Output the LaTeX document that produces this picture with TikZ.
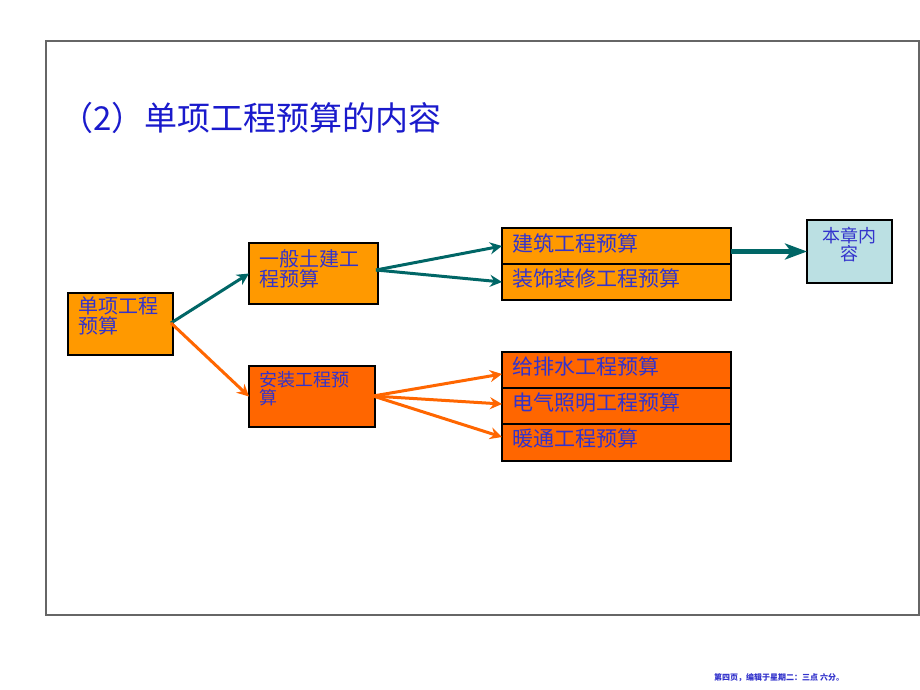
\documentclass[tikz,border=0pt]{standalone}
\usepackage{fontspec}
\setmainfont{Noto Sans CJK SC}
\usetikzlibrary{arrows.meta}
\definecolor{orgA}{HTML}{FF9900}
\definecolor{orgB}{HTML}{FF6600}
\definecolor{tealA}{HTML}{006666}
\definecolor{lblue}{HTML}{BBE0E3}
\definecolor{txtblue}{HTML}{3333CC}
\definecolor{ttlblue}{HTML}{1A1ACC}
\begin{document}
\begin{tikzpicture}[x=1pt,y=-1pt,
  box/.style={draw=black,line width=2.5pt,anchor=north west,inner sep=0pt,outer sep=0pt},
  btxt/.style={anchor=north west,inner sep=0pt,align=left,text=txtblue},
  tarr/.style={draw=tealA,line width=3pt,-{Stealth[length=12pt,width=12pt,inset=4pt]}},
  oarr/.style={draw=orgB,line width=3pt,-{Stealth[length=12pt,width=12pt,inset=4pt]}}]
\useasboundingbox (0,0) rectangle (920,690);
\fill[white] (0,0) rectangle (920,690);
% frame
\draw[gray!80!black,line width=1.2pt] (46,41) rectangle (919,615);
% title
\node[anchor=west,inner sep=0pt,text=ttlblue,font=\fontsize{33}{33}\selectfont] (title) at (60,118) {（2）单项工程预算的内容};
% boxes
\node[box,fill=orgA,minimum width=105pt,minimum height=62pt] (a) at (68,293) {};
\node[btxt,font=\fontsize{20}{20}\selectfont] (ta) at (78,297) {单项工程\\预算};
\node[box,fill=orgA,minimum width=129pt,minimum height=61pt] (b) at (249,243) {};
\node[btxt,font=\fontsize{20}{20}\selectfont] (tb) at (259,249) {一般土建工\\程预算};
\node[box,fill=orgB,minimum width=126pt,minimum height=61pt] (c) at (249,366) {};
\node[btxt,font=\fontsize{18}{16}\selectfont] (tc) at (259,371) {安装工程预\\算};
\node[box,fill=orgA,minimum width=229pt,minimum height=36pt] (d1) at (502,228) {};
\node[box,fill=orgA,minimum width=229pt,minimum height=36pt] (d2) at (502,264) {};
\node[btxt,font=\fontsize{21}{21}\selectfont] (td1) at (512,234) {建筑工程预算};
\node[btxt,font=\fontsize{21}{21}\selectfont] (td2) at (512,269) {装饰装修工程预算};
\node[box,fill=orgB,minimum width=229pt,minimum height=36pt] (e1) at (502,352) {};
\node[box,fill=orgB,minimum width=229pt,minimum height=36pt] (e2) at (502,388) {};
\node[box,fill=orgB,minimum width=229pt,minimum height=37pt] (e3) at (502,424) {};
\node[btxt,font=\fontsize{21}{21}\selectfont] (te1) at (512,357) {给排水工程预算};
\node[btxt,font=\fontsize{21}{21}\selectfont] (te2) at (512,393) {电气照明工程预算};
\node[btxt,font=\fontsize{21}{21}\selectfont] (te3) at (512,429) {暖通工程预算};
\node[box,fill=lblue,minimum width=85pt,minimum height=63pt] (f) at (807,220) {};
\node[anchor=north,inner sep=0pt,align=center,text=txtblue,font=\fontsize{18}{18}\selectfont] (tf) at (849.5,227) {本章内\\容};
% connectors
\coordinate (aout) at (171,323);
\coordinate (bout) at (376,270);
\coordinate (cout) at (373,396);
\draw[tarr] (aout) -- (b.west);
\draw[oarr] (aout) -- (c.west);
\draw[tarr] (bout) -- (d1.west);
\draw[tarr] (bout) -- (d2.west);
\draw[oarr] (cout) -- ([yshift=-4pt]e1.west);
\draw[oarr] (cout) -- ([yshift=2pt]e2.west);
\draw[oarr] (cout) -- ([yshift=5.5pt]e3.west);
\draw[draw=tealA,line width=5pt,-{Stealth[length=22pt,width=16pt,inset=6pt]}] (d1.east |- f.west) -- (f.west);
% footer
\node[anchor=west,inner sep=0pt,text=txtblue,font=\fontsize{8}{8}\selectfont\bfseries] (foot) at (714,678) {第四页，编辑于星期二：三点 六分。};
\end{tikzpicture}
\end{document}
